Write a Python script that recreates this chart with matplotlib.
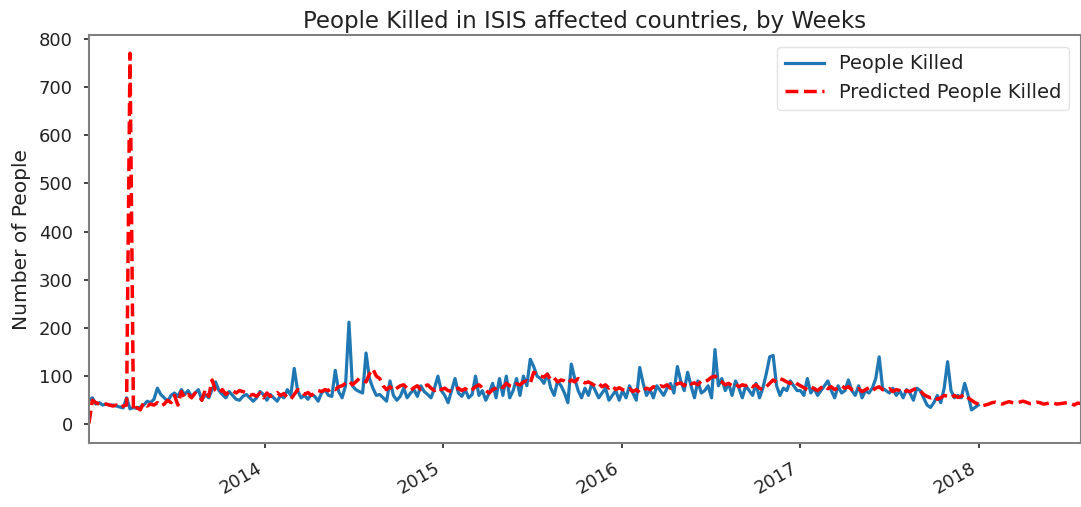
import matplotlib
matplotlib.use("Agg")
import matplotlib.pyplot as plt
import matplotlib.dates as mdates
import pandas as pd
import numpy as np

# ── WEEKLY COUNTS ─────────────────────────────────────────────────────
killed_2013 = [50, 55, 42, 45, 40, 42, 40, 40, 38, 36, 34, 55, 32, 35, 33, 36,
               40, 48, 45, 52, 75, 62, 55, 48, 60, 65, 58, 72, 62, 70, 58, 65,
               72, 50, 62, 55, 72, 88, 70, 62, 55, 68, 60, 52, 50, 58, 62, 55,
               48, 55, 68, 62]
killed_2014 = [50, 62, 55, 48, 60, 55, 72, 60, 116, 70, 55, 60, 52, 62, 58, 48,
               65, 72, 60, 58, 112, 68, 55, 80, 212, 80, 72, 68, 65, 148, 95, 75,
               60, 62, 55, 48, 90, 60, 50, 58, 75, 55, 65, 72, 58, 80, 68, 62,
               55, 75, 100, 70]
killed_2015 = [60, 45, 70, 95, 65, 58, 72, 55, 62, 100, 60, 70, 50, 65, 85, 55,
               95, 60, 100, 55, 70, 95, 60, 100, 80, 135, 120, 100, 95, 85, 105, 75,
               60, 90, 80, 65, 45, 125, 95, 70, 55, 75, 60, 85, 70, 55, 65, 75,
               50, 60, 70, 50]
killed_2016 = [70, 55, 80, 65, 50, 118, 85, 60, 72, 55, 80, 70, 60, 75, 85, 65,
               120, 90, 70, 108, 80, 55, 90, 65, 70, 80, 55, 155, 80, 95, 70, 85,
               60, 90, 75, 55, 80, 70, 60, 85, 55, 75, 105, 140, 143, 80, 60, 75,
               70, 90, 80, 70]
killed_2017 = [70, 60, 95, 65, 75, 60, 70, 80, 90, 70, 55, 80, 65, 70, 92, 70,
               60, 80, 55, 70, 65, 75, 95, 140, 75, 70, 65, 75, 60, 70, 55, 72,
               65, 50, 75, 70, 55, 40, 35, 45, 60, 45, 75, 130, 70, 55, 60, 55,
               85, 60, 30, 35, 40]

pred_2013 = [2, 50, 45, 42, 40, 42, 40, 38, 40, 35, 38, 40, 770, 28, 35, 30,
             45, 38, 42, 40, 45, 38, 42, 50, 45, 60, 40, 68, 55, 62, 55, 65,
             60, 50, 72, 58, 92, 70, 65, 72, 62, 68, 70, 65, 70, 68, 65, 60,
             62, 58, 65, 55]
pred_2014 = [65, 58, 62, 66, 60, 64, 55, 52, 62, 72, 70, 62, 66, 60, 65, 70,
             68, 72, 70, 75, 72, 78, 80, 85, 90, 82, 88, 95, 92, 88, 105, 115,
             100, 95, 80, 72, 78, 70, 75, 80, 82, 75, 70, 76, 80, 72, 78, 82,
             75, 70, 76, 72]
pred_2015 = [75, 70, 68, 72, 75, 70, 74, 68, 72, 78, 82, 76, 70, 65, 72, 75,
             80, 76, 85, 80, 78, 84, 82, 88, 90, 85, 108, 105, 100, 98, 104, 92,
             96, 88, 92, 90, 85, 92, 88, 95, 90, 86, 88, 84, 80, 85, 78, 82,
             75, 80, 72, 76]
pred_2016 = [72, 70, 74, 68, 72, 66, 70, 75, 72, 78, 76, 80, 78, 82, 75, 80,
             84, 86, 80, 88, 84, 86, 82, 90, 88, 92, 98, 100, 92, 88, 82, 85,
             80, 84, 78, 82, 80, 84, 78, 82, 75, 72, 78, 85, 92, 88, 95, 92,
             88, 85, 90, 84]
pred_2017 = [80, 76, 72, 78, 74, 70, 76, 80, 74, 78, 72, 76, 80, 75, 78, 72,
             70, 74, 68, 72, 76, 70, 75, 78, 72, 70, 74, 68, 72, 70, 65, 70,
             68, 72, 75, 70, 62, 58, 55, 58, 52, 55, 60, 58, 55, 60, 56, 58,
             62, 55, 50, 45, 42]
pred_2018 = [38, 40, 42, 45, 46, 44, 42, 45, 47, 45, 44, 46, 48, 46, 43, 44,
             46, 45, 42, 43, 45, 44, 42, 43, 44, 45, 44, 40, 44, 43]

killed = killed_2013 + killed_2014 + killed_2015 + killed_2016 + killed_2017
predicted = pred_2013 + pred_2014 + pred_2015 + pred_2016 + pred_2017 + pred_2018

weeks_actual = pd.date_range("2013-01-06", periods=len(killed), freq="W-SUN")
weeks_pred = pd.date_range("2013-01-06", periods=len(predicted), freq="W-SUN")

# ── PLOT ──────────────────────────────────────────────────────────────
plt.rcParams["font.family"] = "DejaVu Sans"
plt.rcParams["text.color"] = "#222222"
plt.rcParams["axes.labelcolor"] = "#222222"
plt.rcParams["xtick.color"] = "#222222"
plt.rcParams["ytick.color"] = "#222222"

fig = plt.figure(figsize=(10.81, 5.07), dpi=100)
ax = fig.add_axes([0.0823, 0.126, 0.9177, 0.805])

ax.plot(weeks_actual, killed, color="#1f77b4", lw=2.3, label="People Killed")
ax.plot(weeks_pred, predicted, color="red", lw=2.5, linestyle="--",
        label="Predicted People Killed")

ax.set_xlim(weeks_pred[0], weeks_pred[-1])
ax.set_ylim(-39, 808)
ax.set_yticks(np.arange(0, 801, 100))
ax.xaxis.set_major_locator(mdates.YearLocator())
ax.xaxis.set_major_formatter(mdates.DateFormatter("%Y"))
for lbl in ax.get_xticklabels():
    lbl.set_rotation(30)
    lbl.set_ha("right")

ax.set_title("People Killed in ISIS affected countries, by Weeks",
             fontsize=16.5, pad=5)
ax.set_ylabel("Number of People", fontsize=14.5, labelpad=6)
ax.tick_params(labelsize=13, length=3.5, width=1.2, pad=8)

for side in ("left", "bottom", "top", "right"):
    ax.spines[side].set_color("#808080")
    ax.spines[side].set_linewidth(1.5)

ax.legend(loc="upper right", fontsize=14, framealpha=0.8, edgecolor="#dddddd",
          borderaxespad=0.6)

fig.savefig("out.png", dpi=100)
